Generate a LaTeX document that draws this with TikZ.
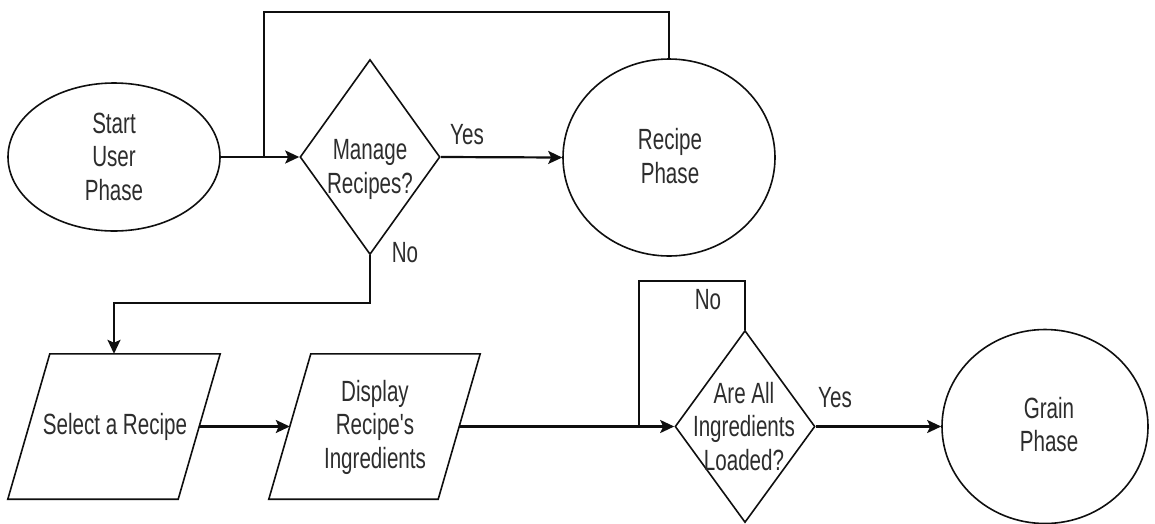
\documentclass[tikz,border=0pt]{standalone}
\usepackage{fontspec}
\setmainfont{Liberation Sans}
\usetikzlibrary{shapes.geometric,arrows.meta,calc}
\definecolor{ink}{RGB}{15,15,15}
\definecolor{txt}{RGB}{45,45,45}
% tall, narrow lettering as in the flowchart
\newcommand{\tallstack}[1]{\scalebox{1}[1.42]{\begin{tabular}{@{}c@{}}#1\end{tabular}}}

\begin{document}
\begin{tikzpicture}[x=1pt,y=-1pt,
  shapeline/.style={draw=ink, line width=1.6pt},
  terminal/.style={shapeline, ellipse, inner sep=0pt},
  decision/.style={shapeline, diamond, inner sep=0pt},
  iobox/.style={rectangle, inner sep=0pt, minimum height=145pt},
  flow/.style={draw=ink, line width=2.2pt},
  arrow/.style={flow, -{Stealth[length=14pt,width=13pt,inset=3pt]}},
  caption/.style={text=txt, font=\fontsize{20.6}{23.5}\selectfont, inner sep=0pt},
]
\fill[white] (0,0) rectangle (1155,523);
\useasboundingbox (0,0) rectangle (1155,523);

% ---- upper row ----
\node[terminal, minimum width=212pt, minimum height=148pt] (start) at (114,157) {};
\node[caption] (startT) at (114,160) {\tallstack{Start\\User\\Phase}};

\node[decision, minimum width=140pt, minimum height=195pt] (manage) at (370,157) {};
\node[caption] (manageT) at (370,170) {\tallstack{Manage\\Recipes?}};

\node[terminal, minimum width=212pt, minimum height=197pt] (recipe) at (669,157.5) {};
\node[caption] (recipeT) at (670,160) {\tallstack{Recipe\\Phase}};

% ---- lower row ----
\node[iobox, minimum width=212pt] (select) at (114,426.5) {};
\draw[shapeline] ($(select.north west)+(42,0)$) -- (select.north east)
  -- ($(select.south east)+(-42,0)$) -- (select.south west) -- cycle;
\node[caption] (selectT) at (115,428) {\tallstack{Select a Recipe}};

\node[iobox, minimum width=211pt] (display) at (374.5,426.5) {};
\draw[shapeline] ($(display.north west)+(42,0)$) -- (display.north east)
  -- ($(display.south east)+(-42,0)$) -- (display.south west) -- cycle;
\node[caption] (displayT) at (375,428) {\tallstack{Display\\Recipe\textquotesingle s\\Ingredients}};

\node[decision, minimum width=140pt, minimum height=192pt] (loaded) at (745,426.5) {};
\node[caption] (loadedT) at (744,430) {\tallstack{Are All\\Ingredients\\Loaded?}};

\node[terminal, minimum width=206pt, minimum height=194pt] (grain) at (1045,426.5) {};
\node[caption] (grainT) at (1049,428) {\tallstack{Grain\\Phase}};

% ---- connectors ----
\draw[arrow] (start.east) -- (manage.west);
\coordinate (j1) at (264,157);
\coordinate (r1) at (264,12);
\draw[flow] (recipe.north) -- (recipe.north |- r1) -- (r1) -- (j1);

\draw[arrow] (manage.east) -- (recipe.west);
\node[caption] (yes1) at (467,138) {\tallstack{Yes}};

\coordinate (n1) at (370,303);
\draw[arrow] (manage.south) -- (n1) -- (n1 -| select.north) -- (select.north);
\node[caption] (no1) at (405,256) {\tallstack{No}};

\draw[arrow] ($(select.east)+(-21,0)$) -- ($(display.west)+(21,0)$);
\draw[arrow] ($(display.east)+(-21,0)$) -- (loaded.west);

\coordinate (l1) at (639,281);
\coordinate (j2) at (639,426.5);
\draw[flow] (loaded.north) -- (loaded.north |- l1) -- (l1) -- (j2);
\node[caption] (no2) at (708,303) {\tallstack{No}};

\draw[arrow] (loaded.east) -- (grain.west);
\node[caption] (yes2) at (835,401) {\tallstack{Yes}};
\end{tikzpicture}
\end{document}
